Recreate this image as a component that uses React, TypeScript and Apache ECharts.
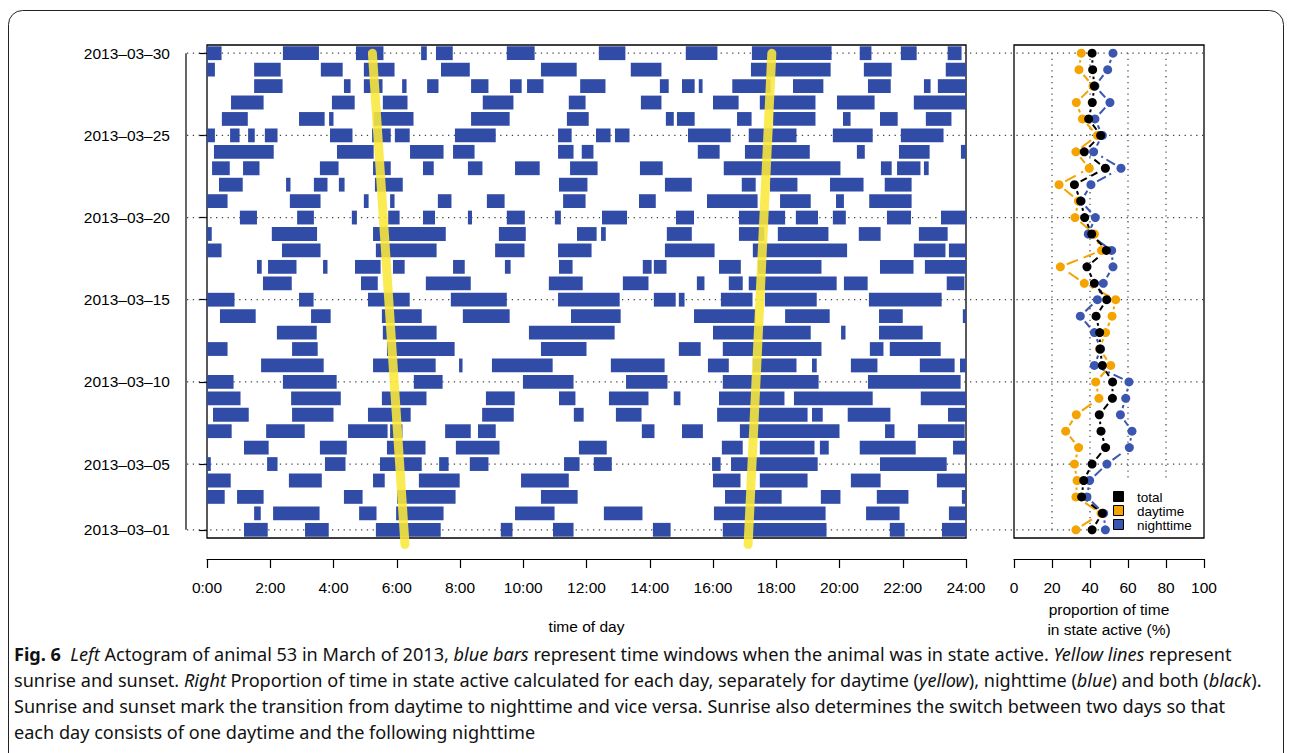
import { useEffect, useRef } from 'react';
import * as echarts from 'echarts';

// ---------- data ----------
const days = Array.from({ length: 30 }, (_, i) => i + 1); // 2013-03-01 .. 2013-03-30
const labelDays = [1, 5, 10, 15, 20, 25, 30];
const pctGridValues = [20, 40, 60, 80];

// active bouts per day, [start hour, end hour]
const mar01 = [[1.17, 1.92], [3.1, 3.85], [5.34, 7.39], [9.29, 9.66], [10.94, 11.59], [14.1, 14.66], [16.31, 19.59], [21.59, 22.06], [23.24, 24]];
const mar02 = [[1.49, 1.7], [2.09, 3.56], [4.81, 5.36], [5.98, 7.48], [9.74, 10.99], [12.55, 13.77], [16.03, 19.56], [20.84, 21.9], [23.46, 24]];
const mar03 = [[0, 0.56], [0.95, 1.79], [4.33, 4.92], [6.01, 7.86], [10.56, 11.72], [16.38, 18.17], [19.41, 20.03], [21.18, 22.18], [23.87, 24]];
const mar04 = [[0, 0.75], [2.59, 3.63], [5.25, 5.62], [6.7, 7.99], [9.93, 11.44], [16.0, 16.87], [17.48, 18.99], [20.36, 21.3], [23.08, 24]];
const mar05 = [[0, 0.12], [1.9, 2.23], [3.73, 4.38], [5.47, 6.79], [7.34, 7.64], [8.31, 8.9], [11.29, 11.78], [12.23, 12.8], [15.97, 16.24], [16.57, 19.31], [21.28, 23.39]];
const mar06 = [[1.17, 1.95], [3.57, 4.42], [5.69, 6.91], [7.87, 9.25], [11.76, 12.64], [16.28, 16.94], [17.48, 19.21], [19.38, 19.66], [20.64, 22.41], [23.59, 24]];
const mar07 = [[0, 0.78], [1.87, 3.09], [4.46, 5.71], [5.79, 6.18], [7.53, 8.34], [8.57, 9.13], [13.75, 14.15], [15.02, 15.68], [16.85, 20.0], [21.44, 21.74], [22.48, 23.96]];
const mar08 = [[0.19, 1.32], [2.69, 4.0], [5.09, 6.44], [8.7, 9.7], [11.6, 11.91], [12.93, 13.74], [16.13, 18.99], [19.13, 19.47], [20.26, 21.61], [23.43, 24]];
const mar09 = [[0, 1.06], [2.66, 4.23], [5.53, 6.94], [8.82, 9.73], [11.13, 11.65], [12.71, 13.96], [14.76, 14.97], [16.19, 18.26], [18.56, 21.05], [22.57, 24]];
const mar10 = [[0, 0.84], [2.4, 4.1], [6.54, 7.45], [9.99, 11.59], [13.25, 14.56], [16.31, 19.34], [20.9, 23.83]];
const mar11 = [[1.71, 3.69], [5.25, 7.23], [7.97, 8.08], [9.01, 10.93], [12.77, 14.47], [15.84, 16.5], [17.26, 18.64], [19.13, 19.28], [20.36, 21.2], [22.54, 23.64], [23.81, 24]];
const mar12 = [[0, 0.65], [2.69, 3.5], [5.69, 7.83], [10.56, 12.0], [14.92, 15.61], [16.31, 19.43], [20.96, 21.39], [21.59, 23.2]];
const mar13 = [[2.21, 3.47], [5.56, 7.26], [10.18, 12.89], [16.0, 19.09], [20.05, 20.19], [21.25, 22.63]];
const mar14 = [[0.41, 1.54], [3.29, 3.91], [5.53, 6.79], [8.09, 9.57], [11.51, 13.08], [15.4, 17.34], [18.28, 19.69], [21.25, 22.0], [23.9, 24]];
const mar15 = [[0, 0.87], [2.91, 3.37], [5.09, 6.41], [7.71, 9.48], [11.1, 13.05], [14.13, 14.82], [14.92, 15.1], [16.25, 17.25], [17.64, 19.28], [20.93, 23.23]];
const mar16 = [[1.77, 2.68], [4.87, 5.4], [6.92, 8.34], [10.81, 11.88], [13.15, 13.96], [15.49, 15.73], [16.5, 16.94], [17.13, 19.91], [20.14, 20.89], [23.39, 23.95]];
const mar17 = [[1.58, 1.73], [1.93, 2.83], [3.67, 3.81], [4.68, 5.49], [5.88, 6.25], [7.78, 8.15], [9.42, 9.6], [11.13, 11.56], [13.78, 14.06], [14.13, 14.53], [16.19, 16.88], [17.42, 19.43], [21.28, 22.34], [22.7, 24]];
const mar18 = [[0, 0.46], [2.37, 3.59], [5.34, 7.26], [9.11, 10.04], [11.1, 12.16], [14.48, 16.05], [17.26, 20.24], [22.35, 23.35], [23.46, 24]];
const mar19 = [[0, 0.15], [2.05, 3.48], [5.25, 7.55], [9.23, 10.08], [11.7, 12.32], [12.46, 12.61], [14.54, 15.33], [16.82, 17.62], [18.05, 19.65], [20.61, 21.3], [22.51, 23.42]];
const mar20 = [[1.04, 1.58], [2.85, 3.38], [4.58, 4.74], [5.73, 6.09], [6.83, 7.21], [8.25, 8.38], [9.48, 10.05], [11.0, 11.19], [12.49, 13.28], [14.83, 15.4], [16.82, 18.28], [18.62, 19.32], [19.79, 20.2], [21.5, 22.26], [23.21, 24]];
const mar21 = [[0, 0.65], [2.62, 3.59], [4.96, 5.11], [5.79, 5.93], [7.3, 7.73], [8.85, 9.41], [11.26, 11.97], [13.66, 14.19], [15.81, 17.41], [18.12, 19.09], [19.89, 20.14], [20.94, 22.28]];
const mar22 = [[0.38, 1.13], [2.5, 2.64], [3.38, 3.81], [4.17, 4.35], [5.31, 6.19], [11.13, 12.03], [14.48, 15.33], [16.91, 17.35], [17.8, 18.67], [19.7, 20.76], [21.43, 22.28]];
const mar23 = [[0.16, 0.72], [1.14, 1.66], [3.57, 4.16], [5.25, 5.81], [6.83, 7.17], [8.25, 8.71], [9.74, 10.52], [11.48, 12.35], [13.69, 14.41], [16.34, 20.03], [21.31, 21.65], [21.82, 22.56], [22.67, 22.82]];
const mar24 = [[0.22, 2.11], [4.11, 5.27], [6.42, 7.48], [7.78, 8.46], [11.1, 11.59], [11.85, 12.22], [15.52, 16.21], [17.01, 19.06], [20.55, 20.8], [21.88, 22.85], [23.84, 24]];
const mar25 = [[0, 0.25], [0.73, 1.03], [1.3, 1.51], [1.83, 2.23], [3.89, 4.6], [5.22, 5.81], [5.94, 6.41], [7.84, 9.13], [11.1, 11.53], [12.3, 12.76], [12.9, 13.36], [15.21, 16.56], [17.13, 18.64], [19.79, 21.05], [21.94, 23.29]];
const mar26 = [[0.47, 1.29], [2.91, 3.72], [3.86, 4.0], [5.27, 6.53], [8.35, 9.57], [11.38, 12.07], [14.51, 14.76], [14.86, 15.42], [16.76, 17.22], [17.9, 19.24], [20.11, 20.35], [21.28, 21.84], [22.73, 23.54]];
const mar27 = [[0.76, 1.79], [3.95, 4.67], [5.56, 6.34], [8.72, 9.69], [11.44, 11.97], [13.72, 14.37], [16.0, 16.81], [17.48, 19.24], [19.92, 21.11], [22.35, 24]];
const mar28 = [[1.49, 2.39], [4.33, 4.54], [4.96, 5.55], [6.17, 6.31], [6.96, 7.32], [8.35, 8.9], [9.58, 9.95], [10.12, 10.64], [11.8, 12.6], [14.32, 14.6], [15.02, 15.42], [15.55, 15.67], [16.61, 17.82], [18.53, 19.49], [20.9, 21.62], [22.67, 22.88], [23.11, 24]];
const mar29 = [[0, 0.25], [1.49, 2.33], [3.6, 4.29], [4.96, 5.93], [7.4, 8.31], [10.56, 11.69], [13.4, 14.37], [17.2, 19.72], [20.77, 21.65], [23.36, 24]];
const mar30 = [[0, 0.46], [2.4, 3.54], [4.71, 5.58], [6.77, 6.95], [7.24, 7.77], [9.48, 10.36], [12.39, 13.23], [15.14, 16.14], [17.23, 19.75], [20.64, 21.01], [21.94, 22.44], [23.42, 23.86]];
const boutsByDay = [mar01, mar02, mar03, mar04, mar05, mar06, mar07, mar08, mar09, mar10, mar11, mar12, mar13, mar14, mar15,
  mar16, mar17, mar18, mar19, mar20, mar21, mar22, mar23, mar24, mar25, mar26, mar27, mar28, mar29, mar30];

// sunrise / sunset lines (hour of day at the two ends)
const sunDays = [0.1, 30];
const sunriseHours = [6.26, 5.23];
const sunsetHours = [17.11, 17.86];

// proportion of time active (%), Mar 1 .. Mar 30
const totalPct = [41.1, 46.5, 35.6, 36.7, 41.1, 48.2, 45.8, 44.9, 51.8, 51.9, 46.5, 45.3, 45.1, 43.2, 48.8,
  42.3, 38.4, 48.6, 40.9, 37.2, 35.1, 31.8, 48.1, 37.0, 45.6, 39.3, 41.2, 42.3, 41.4, 41.1];
const daytimePct = [32.6, 45.8, 32.6, 33.2, 31.8, 34.0, 27.2, 32.8, 44.7, 43.0, 50.9, 45.0, 48.2, 51.6, 53.5,
  37.0, 24.4, 46.1, 42.3, 32.1, 33.9, 23.7, 39.6, 32.6, 43.9, 36.0, 32.8, 41.6, 34.2, 35.4];
const nighttimePct = [48.1, 47.2, 38.4, 39.8, 48.9, 60.7, 62.1, 56.0, 58.8, 60.5, 42.3, 45.6, 42.3, 34.9, 43.9,
  47.0, 52.1, 51.4, 39.1, 42.8, 35.3, 40.5, 56.3, 41.9, 46.5, 42.6, 50.5, 42.6, 49.3, 52.1];

const legendLabels = ['total', 'daytime', 'nighttime'];

// ---------- styles ----------
const FONT = '"Liberation Sans", Arial, Helvetica, sans-serif';
const CAPFONT = '"Noto Sans", "Open Sans", sans-serif';
const CAPSIZE = 18.1;
const BLUE = '#314ca6';
const ORANGE = '#f4a300';
const NBLUE = '#3b56b0';
const BLACK = '#000000';
const YELLOW = 'rgba(250,232,58,0.88)';

const dateLabel = (d: number) => `2013–03–${String(d).padStart(2, '0')}`;

function segData(vals: number[]) {
  const out: number[][] = [];
  for (let i = 0; i < vals.length - 1; i++) out.push([vals[i], days[i], vals[i + 1], days[i + 1]]);
  return out;
}

function segSeries(vals: number[], color: string, dash: number[]) {
  return {
    type: 'custom',
    xAxisIndex: 1,
    yAxisIndex: 1,
    z: 4,
    silent: true,
    data: segData(vals),
    renderItem: (_p: any, api: any) => {
      const a = api.coord([api.value(0), api.value(1)]);
      const b = api.coord([api.value(2), api.value(3)]);
      const dx = b[0] - a[0];
      const dy = b[1] - a[1];
      const L = Math.hypot(dx, dy);
      const g = 7;
      if (L <= 2 * g + 1) return null;
      const ux = dx / L;
      const uy = dy / L;
      return {
        type: 'line',
        shape: { x1: a[0] + ux * g, y1: a[1] + uy * g, x2: b[0] - ux * g, y2: b[1] - uy * g },
        style: { stroke: color, lineWidth: 2, lineDash: dash, fill: null },
      };
    },
  };
}

function pointSeries(vals: number[], color: string) {
  return {
    type: 'scatter',
    xAxisIndex: 1,
    yAxisIndex: 1,
    z: 5,
    symbol: 'circle',
    symbolSize: 9,
    itemStyle: { color, opacity: 1 },
    data: vals.map((v, i) => [v, days[i]]),
  };
}

const barData: number[][] = [];
boutsByDay.forEach((bouts, i) => bouts.forEach(([s, e]) => barData.push([s, e, days[i]])));

const captionRich = {
  b: { fontWeight: 'bold', fontFamily: CAPFONT, fontSize: CAPSIZE, fill: '#111' },
  i: { fontStyle: 'italic', fontFamily: CAPFONT, fontSize: CAPSIZE, fill: '#111' },
};
const captionLines = [
  '{b|Fig. 6}  {i|Left} Actogram of animal 53 in March of 2013, {i|blue bars} represent time windows when the animal was in state active. {i|Yellow lines} represent',
  'sunrise and sunset. {i|Right} Proportion of time in state active calculated for each day, separately for daytime ({i|yellow}), nighttime ({i|blue}) and both ({i|black}).',
  'Sunrise and sunset mark the transition from daytime to nighttime and vice versa. Sunrise also determines the switch between two days so that',
  'each day consists of one daytime and the following nighttime',
];

export default function App() {
  const ref = useRef<HTMLDivElement>(null);
  useEffect(() => {
    if (!ref.current) return;
    const chart = echarts.init(ref.current, null, { renderer: 'svg' });
    const axisCommon = {
      axisLine: { show: true, lineStyle: { color: '#000', width: 1.2 } },
      axisTick: { show: true, length: 9, lineStyle: { color: '#000', width: 1.2 } },
      splitLine: { show: false },
    };
    const legendColors = [BLACK, ORANGE, NBLUE];
    const option: any = {
      animation: false,
      backgroundColor: '#ffffff',
      grid: [
        { left: 207, top: 45, width: 759, height: 493, show: true, borderColor: '#000', borderWidth: 1.3, backgroundColor: 'transparent' },
        { left: 1014, top: 45, width: 190, height: 493, show: true, borderColor: '#000', borderWidth: 1.3, backgroundColor: 'transparent' },
        { left: 186, top: 45, width: 1018, height: 493, show: false },
      ],
      xAxis: [
        {
          gridIndex: 0, type: 'value', min: 0, max: 24, interval: 2, position: 'bottom', offset: 21,
          ...axisCommon,
          axisLabel: { formatter: (v: number) => `${v}:00`, fontFamily: FONT, fontSize: 15.5, color: '#000', margin: 20, showMinLabel: true, showMaxLabel: true },
          name: 'time of day', nameLocation: 'middle', nameGap: 59,
          nameTextStyle: { fontFamily: FONT, fontSize: 15.5, color: '#000' },
        },
        {
          gridIndex: 1, type: 'value', min: 0, max: 100, interval: 20, position: 'bottom', offset: 21,
          ...axisCommon,
          axisLabel: { fontFamily: FONT, fontSize: 15.5, color: '#000', margin: 20, showMinLabel: true, showMaxLabel: true },
          name: 'proportion of time\nin state active (%)', nameLocation: 'middle', nameGap: 38,
          nameTextStyle: { fontFamily: FONT, fontSize: 15.5, color: '#000', lineHeight: 19.5 },
        },
        { gridIndex: 2, type: 'value', min: 0, max: 1, show: false },
      ],
      yAxis: [
        {
          gridIndex: 0, type: 'value', min: 0.5, max: 30.5, position: 'left', offset: 21,
          axisLine: { show: false },
          axisTick: { show: true, length: 8, customValues: labelDays, lineStyle: { color: '#000', width: 1.2 } },
          axisLabel: { customValues: labelDays, formatter: (v: number) => dateLabel(v), fontFamily: FONT, fontSize: 15.5, color: '#000', margin: 16 },
          splitLine: { show: false },
        },
        { gridIndex: 1, type: 'value', min: 0.5, max: 30.5, show: false },
        { gridIndex: 2, type: 'value', min: 0.5, max: 30.5, show: false },
      ],
      series: [
        // horizontal dotted reference lines across both panels
        {
          type: 'custom', xAxisIndex: 2, yAxisIndex: 2, z: 1, silent: true,
          data: labelDays.map((d) => [d]),
          renderItem: (_p: any, api: any) => {
            const a = api.coord([0, api.value(0)]);
            const b = api.coord([1, api.value(0)]);
            return { type: 'line', shape: { x1: a[0] + 1, y1: a[1], x2: b[0], y2: b[1] }, style: { stroke: '#444', lineWidth: 1.2, lineDash: [1.3, 4.5], fill: null } };
          },
        },
        // y axis line (from first to last labelled day)
        {
          type: 'custom', xAxisIndex: 2, yAxisIndex: 2, z: 3, silent: true,
          data: [[labelDays[0], labelDays[labelDays.length - 1]]],
          renderItem: (_p: any, api: any) => {
            const a = api.coord([0, api.value(0)]);
            const b = api.coord([0, api.value(1)]);
            return { type: 'line', shape: { x1: a[0], y1: a[1], x2: b[0], y2: b[1] }, style: { stroke: '#000', lineWidth: 1.2, fill: null } };
          },
        },
        // vertical dotted lines in right panel
        {
          type: 'custom', xAxisIndex: 1, yAxisIndex: 1, z: 1, silent: true,
          data: pctGridValues.map((v) => [v]),
          renderItem: (_p: any, api: any) => {
            const a = api.coord([api.value(0), days[0]]);
            const b = api.coord([api.value(0), days[days.length - 1]]);
            return { type: 'line', shape: { x1: a[0], y1: a[1], x2: b[0], y2: b[1] }, style: { stroke: '#444', lineWidth: 1.2, lineDash: [1.3, 4.5], fill: null } };
          },
        },
        // activity bars
        {
          type: 'custom', xAxisIndex: 0, yAxisIndex: 0, z: 2, silent: true,
          data: barData,
          renderItem: (_p: any, api: any) => {
            const d = api.value(2);
            const p0 = api.coord([api.value(0), d + 0.42]);
            const p1 = api.coord([api.value(1), d - 0.42]);
            return { type: 'rect', shape: { x: p0[0], y: p0[1], width: p1[0] - p0[0], height: p1[1] - p0[1] }, style: { fill: BLUE } };
          },
        },
        // sunrise & sunset
        {
          type: 'line', xAxisIndex: 0, yAxisIndex: 0, z: 6, clip: false, symbol: 'none', silent: true,
          data: sunDays.map((d, i) => [sunriseHours[i], d]),
          lineStyle: { color: YELLOW, width: 9, cap: 'round' },
        },
        {
          type: 'line', xAxisIndex: 0, yAxisIndex: 0, z: 6, clip: false, symbol: 'none', silent: true,
          data: sunDays.map((d, i) => [sunsetHours[i], d]),
          lineStyle: { color: YELLOW, width: 9, cap: 'round' },
        },
        // right panel lines & points
        segSeries(daytimePct, ORANGE, [12, 6]),
        segSeries(nighttimePct, NBLUE, [10, 4, 2, 4]),
        segSeries(totalPct, BLACK, [7, 5]),
        pointSeries(daytimePct, ORANGE),
        pointSeries(nighttimePct, NBLUE),
        pointSeries(totalPct, BLACK),
      ],
      graphic: [
        { type: 'rect', z: 0, silent: true, shape: { x: 8.5, y: 10.5, width: 1275, height: 900, r: 14 }, style: { fill: 'none', stroke: '#222', lineWidth: 1 } },
        { type: 'rect', z: 3, silent: true, shape: { x: 1108, y: 481, width: 95, height: 56 }, style: { fill: '#fff' } },
        ...legendLabels.flatMap((t, i) => [
          { type: 'rect', z: 4, silent: true, shape: { x: 1113.5, y: 491.5 + i * 14, width: 10, height: 10 }, style: { fill: legendColors[i], stroke: '#000', lineWidth: 1 } },
          { type: 'text', z: 4, silent: true, x: 1137, y: 497 + i * 14, style: { text: t, fontFamily: FONT, fontSize: 13.5, fill: '#000', verticalAlign: 'middle', align: 'left' } },
        ]),
        ...captionLines.map((t, i) => ({
          type: 'text', z: 4, silent: true, x: 14, y: 654 + i * 26,
          style: { text: t, rich: captionRich, fontFamily: CAPFONT, fontSize: CAPSIZE, fill: '#111', verticalAlign: 'middle', align: 'left' },
        })),
      ],
    };
    chart.setOption(option);
    return () => chart.dispose();
  }, []);
  return <div ref={ref} style={{ position: 'absolute', left: 0, top: 0, width: 1290, height: 753 }} />;
}
